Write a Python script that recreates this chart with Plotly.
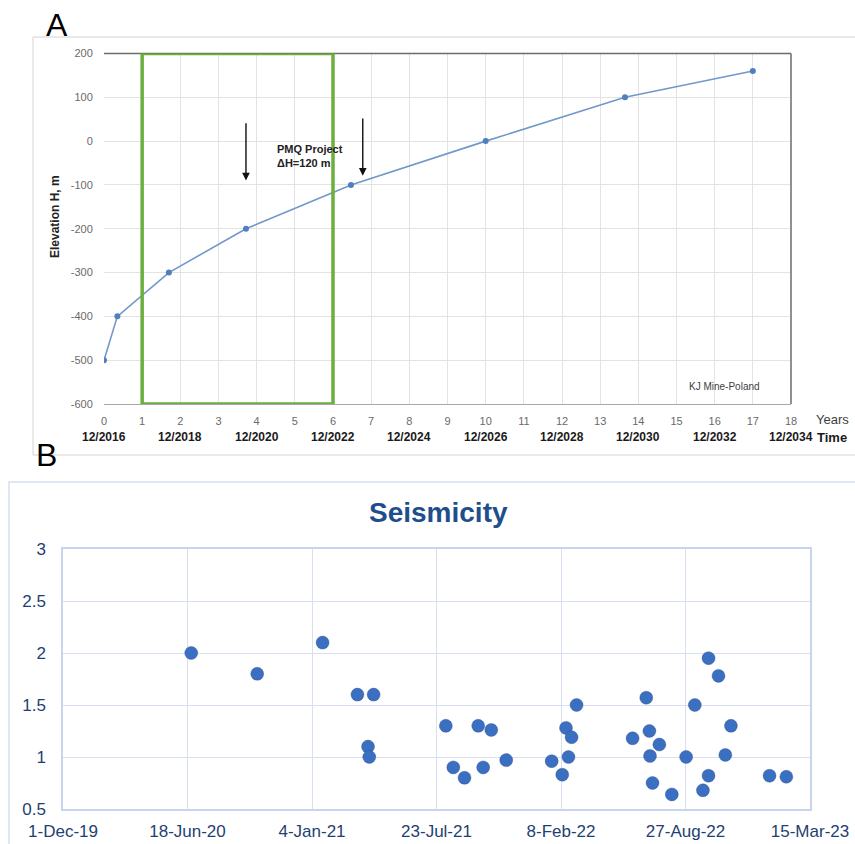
import plotly.graph_objects as go

W, H = 855, 844

# ---------------- Panel A data ----------------
years = [0, 0.35, 1.7, 3.72, 6.47, 10, 13.65, 17]
elevation = [-500, -400, -300, -200, -100, 0, 100, 160]
elev_ticks = [-600, -500, -400, -300, -200, -100, 0, 100, 200]
date_label_years = [0, 2, 4, 6, 8, 10, 12, 14, 16, 18]
date_labels = ["12/2016", "12/2018", "12/2020", "12/2022", "12/2024",
               "12/2026", "12/2028", "12/2030", "12/2032", "12/2034"]
pmq_years = [1, 6]          # green box (PMQ project window)
arrow_years = [3.72, 6.78]

# ---------------- Panel B data ----------------
quake_dates = [
    "2020-06-24", "2020-10-08", "2021-01-21", "2021-03-18", "2021-04-13",
    "2021-04-04", "2021-04-06", "2021-08-07", "2021-08-19", "2021-09-06",
    "2021-09-28", "2021-10-06", "2021-10-19", "2021-11-12", "2022-01-24",
    "2022-02-10", "2022-02-16", "2022-02-25", "2022-02-20", "2022-03-05",
    "2022-06-03", "2022-06-25", "2022-06-30", "2022-07-16", "2022-07-01",
    "2022-07-05", "2022-08-05", "2022-08-28", "2022-09-11", "2022-10-03",
    "2022-10-19", "2022-10-03", "2022-09-24", "2022-10-30", "2022-11-08",
    "2023-01-09", "2023-02-05",
]
magnitudes = [
    2.0, 1.8, 2.1, 1.6, 1.6,
    1.1, 1.0, 1.3, 0.9, 0.8,
    1.3, 0.9, 1.26, 0.97, 0.96,
    0.83, 1.28, 1.19, 1.0, 1.5,
    1.18, 1.57, 1.25, 1.12, 1.01,
    0.75, 0.64, 1.0, 1.5, 1.95,
    1.78, 0.82, 0.68, 1.02, 1.3,
    0.82, 0.81,
]


def px(x):
    return x / W


def py(y):
    return 1 - y / H


FONT = "Liberation Sans, Arial, sans-serif"

fig = go.Figure()

fig.add_trace(go.Scatter(
    x=years, y=elevation, mode="lines+markers",
    line=dict(color="#7098CB", width=1.6),
    marker=dict(color="#4F7FBE", size=6),
    xaxis="x", yaxis="y", showlegend=False, hoverinfo="skip",
))

fig.add_trace(go.Scatter(
    x=quake_dates, y=magnitudes, mode="markers",
    marker=dict(color="#3B6FC2", size=13,
                line=dict(color="rgba(40,70,120,0.35)", width=1)),
    xaxis="x2", yaxis="y2", showlegend=False, hoverinfo="skip",
))

annotations = []
shapes = []


def note(x, y, text, size, color, xref="paper", yref="paper", **kw):
    d = dict(x=x, y=y, xref=xref, yref=yref, text=text, showarrow=False,
             xanchor="center", yanchor="middle",
             font=dict(family=FONT, size=size, color=color))
    d.update(kw)
    annotations.append(d)


# Outer frames of both panels
shapes.append(dict(type="rect", xref="paper", yref="paper",
                   x0=px(33), x1=1.02, y0=py(455), y1=py(37),
                   line=dict(color="#D4D4D4", width=1), layer="below"))
shapes.append(dict(type="rect", xref="paper", yref="paper",
                   x0=px(9), x1=1.02, y0=-0.02, y1=py(482),
                   line=dict(color="#D5E0F1", width=1.5), layer="below"))

# Panel A plot frame (top and right darker)
shapes.append(dict(type="line", xref="x domain", yref="y domain",
                   x0=0, x1=1, y0=1, y1=1, line=dict(color="#6B6B6B", width=1.5)))
shapes.append(dict(type="line", xref="x domain", yref="y domain",
                   x0=1, x1=1, y0=0, y1=1, line=dict(color="#6B6B6B", width=1.5)))

# Green PMQ rectangle
shapes.append(dict(type="rect", xref="x", yref="y",
                   x0=pmq_years[0], x1=pmq_years[1], y0=-600, y1=200,
                   line=dict(color="#6BAF3E", width=3.5), layer="above"))

# Arrows
arrow_tops = [44, 55]
arrow_heads = [-90, -79]
for xa, yt, yh in zip(arrow_years, arrow_tops, arrow_heads):
    annotations.append(dict(x=xa, y=yh, ax=xa, ay=yt, xref="x", yref="y",
                            axref="x", ayref="y", text="", showarrow=True,
                            arrowhead=2, arrowsize=1.1, arrowwidth=1.4,
                            arrowcolor="#111111"))

note(4.48, -34, "<b>PMQ Project</b><br><b>\u0394H=120 m</b>", 11, "#222222",
     xref="x", yref="y", xanchor="left", align="left")

note(16.27, -559, "KJ Mine-Poland", 10, "#404040", xref="x", yref="y")

# Date labels under the year axis
for xv, lab in zip(date_label_years, date_labels):
    note(xv, py(437), "<b>" + lab + "</b>", 12, "#1A1A1A", xref="x")

note(px(832), py(419), "Years", 13, "#404040")
note(px(832), py(437), "<b>Time</b>", 13, "#1A1A1A")

note(px(55), py(217), "<b>Elevation H, m</b>", 12, "#222222", textangle=-90)

# Panel letters
note(px(57), py(25), "A", 32, "#000000")
note(px(46), py(455), "B", 32, "#000000")

# Panel B title
note(px(438), py(512), "<b>Seismicity</b>", 28, "#1F4E8C")

fig.update_layout(
    template="none",
    width=W, height=H,
    margin=dict(l=0, r=0, t=0, b=0, pad=0, autoexpand=False),
    paper_bgcolor="white", plot_bgcolor="white",
    font=dict(family=FONT),
    xaxis=dict(domain=[px(104), px(791)], range=[0, 18], dtick=1, tick0=0,
               showgrid=True, gridcolor="#E3E3E3", gridwidth=1,
               zeroline=False, showline=True, linecolor="#A8A8A8",
               ticks="outside", ticklen=7, tickcolor="rgba(0,0,0,0)",
               tickfont=dict(family=FONT, size=11, color="#6A6A6A"),
               anchor="y", fixedrange=True, automargin=False),
    yaxis=dict(domain=[py(404), py(53.5)], range=[-600, 200],
               tickvals=elev_ticks, ticktext=[str(v) for v in elev_ticks],
               showgrid=True, gridcolor="#E3E3E3", gridwidth=1,
               zeroline=False, showline=False,
               ticks="outside", ticklen=8, tickcolor="rgba(0,0,0,0)",
               tickfont=dict(family=FONT, size=11, color="#6A6A6A"),
               anchor="x", fixedrange=True, automargin=False),
    xaxis2=dict(domain=[px(63), px(810)], type="date",
                range=["2019-12-01", "2023-03-15"],
                tick0="2019-12-01", dtick=200 * 86400000,
                tickformat="%-d-%b-%y",
                showgrid=True, gridcolor="#D6E0F1", gridwidth=1,
                zeroline=False, showline=True, mirror=True,
                linecolor="#C7D5EC", linewidth=1.5,
                ticks="outside", ticklen=6, tickcolor="rgba(0,0,0,0)",
                tickfont=dict(family=FONT, size=17, color="#1F3F73"),
                anchor="y2", fixedrange=True, automargin=False),
    yaxis2=dict(domain=[py(809), py(549)], range=[0.5, 3], dtick=0.5,
                showgrid=True, gridcolor="#D6E0F1", gridwidth=1,
                zeroline=False, showline=True, mirror=True,
                linecolor="#C7D5EC", linewidth=1.5,
                ticks="outside", ticklen=12, tickcolor="rgba(0,0,0,0)",
                tickfont=dict(family=FONT, size=17, color="#1F3F73"),
                anchor="x2", fixedrange=True, automargin=False),
    shapes=shapes,
    annotations=annotations,
)

fig.write_html("out.html")
